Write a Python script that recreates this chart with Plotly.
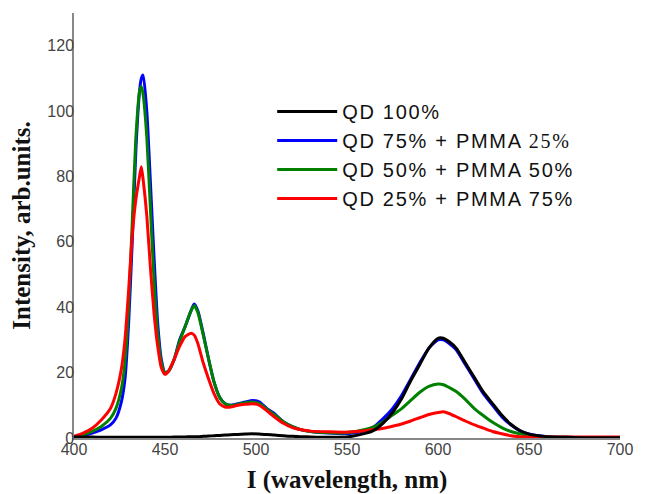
import plotly.graph_objects as go

wavelength = [400, 405, 410, 415, 420, 423, 426, 428, 430, 432, 434, 436, 437, 438, 440, 442, 444, 446, 448, 450,
              452, 455, 458, 461, 464, 466, 468, 471, 474, 477, 480, 483, 486, 490, 494, 498, 502, 506, 510, 515,
              520, 525, 530, 540, 550, 560, 565, 570, 575, 580, 585, 590, 595, 600, 603, 606, 610, 615, 620, 625,
              630, 635, 640, 645, 650, 660, 670, 680, 690, 700]

qd100 = [0.3, 0.3, 0.3, 0.2, 0.2, 0.2, 0.2, 0.2, 0.2, 0.2, 0.2, 0.2, 0.2, 0.2, 0.2, 0.2, 0.2, 0.2, 0.2, 0.2,
         0.2, 0.3, 0.3, 0.3, 0.4, 0.4, 0.4, 0.5, 0.6, 0.7, 0.8, 0.9, 1.0, 1.1, 1.2, 1.3, 1.2, 1.1, 0.9, 0.7,
         0.5, 0.4, 0.3, 0.2, 0.3, 1.4, 2.4, 4.6, 7.8, 12.0, 17.5, 22.5, 27.5, 30.5, 30.5, 29.5, 27.5, 23.0, 18.5, 14.0,
         10.5, 7.0, 4.2, 2.3, 1.2, 0.4, 0.2, 0.1, 0.1, 0.1]

qd75 = [0.3, 0.8, 1.5, 2.5, 4.0, 6.0, 11, 18, 35, 60, 88, 106, 110, 111, 100, 78, 55, 35, 24, 20,
        20.5, 24, 30, 34, 38.5, 41, 39, 32, 24, 17, 12.5, 10.5, 10, 10.5, 11, 11.5, 11, 9, 7.5, 5,
        3.5, 2.5, 2, 1.5, 1.3, 2.3, 3.5, 6, 9, 13, 18, 23, 27.5, 30, 30, 29, 27, 22.5, 18, 13.5,
        10, 6.5, 4, 2.2, 1.2, 0.4, 0.2, 0.1, 0.1, 0.1]

qd50 = [0.4, 1.0, 2.0, 3.5, 6, 9, 15, 23, 40, 66, 92, 106, 107.5, 105, 92, 70, 48, 32, 23, 20,
        20.5, 24, 29.5, 34, 38.5, 40.5, 38.5, 31.5, 24, 17, 12.5, 10.5, 10, 10.3, 10.8, 11, 10.5, 8.8, 7.2, 5,
        3.5, 2.5, 2, 1.6, 1.6, 2.6, 3.5, 5, 7, 9, 11.5, 14, 15.8, 16.5, 16.3, 15.5, 14.2, 11.8, 9, 6.8,
        4.8, 3.2, 2, 1.3, 0.8, 0.4, 0.2, 0.1, 0.1, 0.1]

qd25 = [0.5, 1.5, 3.0, 5.5, 9, 13.5, 21, 30, 45, 62, 73, 80, 83, 79, 68, 52, 38, 28, 21.5, 19.5,
        20.5, 24, 28, 31, 32, 31.5, 29, 23, 18, 13.5, 10.5, 9.5, 9.5, 10, 10.3, 10.5, 10, 8.3, 6.5, 4.5,
        3.2, 2.5, 2.1, 1.9, 1.8, 2.2, 2.6, 3, 3.6, 4.3, 5.2, 6.2, 7.2, 7.8, 8, 7.5, 6.5, 5.2, 4, 3,
        2, 1.3, 0.7, 0.4, 0.3, 0.3, 0.3, 0.3, 0.3, 0.3]

names = ["QD 100%",
         "QD 75% + PMMA <span style='font-family:Liberation Serif, Times New Roman, serif'>25%</span>",
         "QD 50% + PMMA 50%",
         "QD 25% + PMMA 75%"]
colors = ["#000000", "#0000ff", "#008000", "#ff0000"]
series = [qd100, qd75, qd50, qd25]
ranks = [1, 2, 3, 4]
draw_order = [1, 2, 3, 0]

x_ticks = [400, 450, 500, 550, 600, 650, 700]
y_ticks = [0, 20, 40, 60, 80, 100, 120]

fig = go.Figure()
for i in draw_order:
    fig.add_trace(go.Scatter(x=wavelength, y=series[i], mode="lines",
                             name="<span style='letter-spacing:1.7px'>" + names[i] + "</span>",
                             line=dict(color=colors[i], width=3, shape="spline", smoothing=0.6),
                             legendrank=ranks[i]))

serif = "Liberation Serif, Times New Roman, serif"
fig.update_layout(
    width=641, height=486,
    margin=dict(l=66, r=29, t=5, b=56),
    paper_bgcolor="white", plot_bgcolor="white",
    font=dict(family="Liberation Sans, Arial, sans-serif", color="#333333"),
    showlegend=True,
    legend=dict(x=0.363, y=0.814, xanchor="left", yanchor="top",
                font=dict(size=20, color="#111111", family="Liberation Sans, Arial, sans-serif"),
                bgcolor="rgba(0,0,0,0)", itemwidth=60, tracegroupgap=0),
    xaxis=dict(range=[400, 700], tickvals=x_ticks, ticks="", showgrid=False, zeroline=False,
               showline=True, linecolor="#888888", linewidth=1.5, automargin=False,
               tickfont=dict(size=16, color="#444444"), ticklabelstandoff=-4,
               title=dict(text="I (wavelength, nm)", standoff=18,
                          font=dict(family=serif, size=25, color="#111111", weight="bold")),
               ),
    yaxis=dict(range=[0, 130], tickvals=y_ticks, ticks="", showgrid=False, zeroline=False,
               showline=True, linecolor="#888888", linewidth=1.5, automargin=False,
               tickfont=dict(size=16, color="#444444"), ticklabelstandoff=-5,
               title=dict(text="Intensity, arb.units.", standoff=10,
                          font=dict(family=serif, size=25, color="#111111", weight="bold")),
               ),
)

fig.write_html("out.html")
